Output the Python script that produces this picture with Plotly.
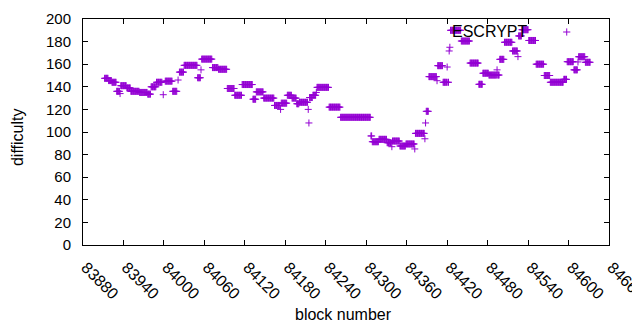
import numpy as np
import plotly.graph_objects as go

# Runs of consecutive blocks with the same difficulty
run_start = [83912, 83918, 83923, 83930, 83935, 83936, 83945, 83951, 83964, 83976,
             83981, 83989, 83999, 84002, 84013, 84021, 84023, 84030, 84050, 84055,
             84056, 84072, 84081, 84094, 84105, 84116, 84132, 84137, 84148, 84164,
             84173, 84174, 84183, 84190, 84197, 84201, 84214, 84215, 84216, 84221,
             84226, 84227, 84245, 84262, 84307, 84309, 84319, 84331, 84338, 84339,
             84350, 84359, 84372, 84373, 84387, 84388, 84389, 84393, 84405, 84406,
             84414, 84420, 84421, 84423, 84424, 84425, 84441, 84454, 84467, 84473,
             84482, 84494, 84495, 84498, 84505, 84517, 84525, 84526, 84531, 84541,
             84552, 84564, 84573, 84593, 84598, 84608, 84614, 84615, 84625]
run_len = [6, 5, 7, 5, 1, 9, 6, 13, 12, 5,
           8, 9, 1, 11, 7, 1, 7, 20, 5, 1,
           16, 9, 13, 11, 11, 16, 5, 11, 16, 9,
           1, 9, 7, 7, 4, 13, 1, 1, 5, 5,
           1, 18, 17, 45, 2, 10, 12, 7, 1, 11,
           9, 13, 1, 14, 1, 1, 4, 12, 1, 8,
           6, 1, 2, 1, 1, 16, 13, 13, 6, 9,
           12, 1, 3, 7, 12, 8, 1, 5, 10, 11,
           12, 9, 20, 5, 10, 6, 1, 10, 8]
run_val = [147.5, 145.5, 144, 136, 134, 141, 139, 136, 135, 133.5,
           140, 144, 133, 145, 136, 146, 153, 159, 148, 155,
           164.5, 157, 155.5, 138.5, 132.5, 142, 129, 135.5, 130, 123.5,
           120, 125.5, 132.5, 130, 125, 126.3, 120, 108, 130.5, 132.5,
           135, 139.5, 122, 113, 96.5, 91.4, 93.5, 90.5, 87, 92,
           87.6, 89.4, 85, 98.8, 94, 108, 118.3, 149, 145.4, 158.7,
           144, 157.5, 144, 171.7, 175, 190, 180.5, 161, 142.2, 152,
           150.4, 155, 150.4, 164.3, 179.4, 171.7, 166.7, 185, 190.5, 181,
           160, 150, 144, 146.6, 162.2, 155, 162, 166.6, 161.7]

x_ticks = list(range(83880, 84661, 60))
y_ticks = list(range(0, 201, 20))

blocks = np.concatenate([np.arange(s, s + n) for s, n in zip(run_start, run_len)])
diffs = np.repeat(run_val, run_len)

COLOR = "#9400D3"
FONT = "Liberation Sans, Arial, sans-serif"

fig = go.Figure()
fig.add_trace(go.Scatter(
    x=blocks, y=diffs, mode="markers", name="ESCRYPT",
    marker=dict(symbol="cross-thin", size=5.0, color=COLOR,
                line=dict(color=COLOR, width=1)),
    showlegend=False,
))

# page offset of the plot div (default body margin)
OFF = 8
W, H = 640 - OFF, 330 - 2 * OFF
# plot-area edges in page pixels
Lp, Rp, Tp, Bp = 83, 609.3, 19, 245
L, R, T, B = Lp - OFF, Rp - OFF, Tp - OFF, Bp - OFF

axis_common = dict(showline=True, linecolor="black", linewidth=1, mirror="allticks",
                   ticks="inside", ticklen=5, tickcolor="black", showgrid=False,
                   zeroline=False)

fig.update_layout(
    width=W, height=H,
    margin=dict(l=L, r=W - R, t=T, b=H - B, autoexpand=False),
    paper_bgcolor="white", plot_bgcolor="white",
    font=dict(family=FONT, size=15, color="black"),
    xaxis=dict(range=[83880, 84660], tickvals=x_ticks, ticktext=[str(v) for v in x_ticks],
               tickangle=45, ticklabeloverflow="allow", ticklabelstandoff=6,
               ticklabelshift=3,
               tickfont=dict(family=FONT, size=16, color="black"), **axis_common),
    yaxis=dict(range=[0, 200], tickvals=y_ticks, ticktext=[str(v) for v in y_ticks],
               ticklabelstandoff=8,
               tickfont=dict(family=FONT, size=15, color="black"), **axis_common),
)

def px_to_paper(px, py):
    # page pixel -> paper coordinates
    return (px - Lp) / (Rp - Lp), (Bp - py) / (Bp - Tp)

# axis titles
fig.add_annotation(text="block number", xref="paper", yref="paper",
                   x=px_to_paper(344, 0)[0], y=px_to_paper(0, 314)[1],
                   showarrow=False, xanchor="center", yanchor="middle",
                   font=dict(family=FONT, size=16, color="black"))
fig.add_annotation(text="difficulty", xref="paper", yref="paper",
                   x=px_to_paper(17, 0)[0], y=px_to_paper(0, 137)[1], textangle=-90,
                   showarrow=False, xanchor="center", yanchor="middle",
                   font=dict(family=FONT, size=16, color="black"))

# key (gnuplot style: text, then sample)
kx, ky = px_to_paper(530, 32)
fig.add_annotation(text="ESCRYPT", xref="paper", yref="paper", x=kx, y=ky,
                   showarrow=False, xanchor="right", yanchor="middle",
                   font=dict(family=FONT, size=16, color="black"))
sx0, sy0 = px_to_paper(567 - 3.6, 32 + 3.6)
sx1, sy1 = px_to_paper(567 + 3.6, 32 - 3.6)
scx, scy = px_to_paper(567, 32)
fig.add_shape(type="line", xref="paper", yref="paper", x0=sx0, x1=sx1, y0=scy, y1=scy,
              line=dict(color=COLOR, width=1))
fig.add_shape(type="line", xref="paper", yref="paper", x0=scx, x1=scx, y0=sy0, y1=sy1,
              line=dict(color=COLOR, width=1))

fig.write_html("out.html")
